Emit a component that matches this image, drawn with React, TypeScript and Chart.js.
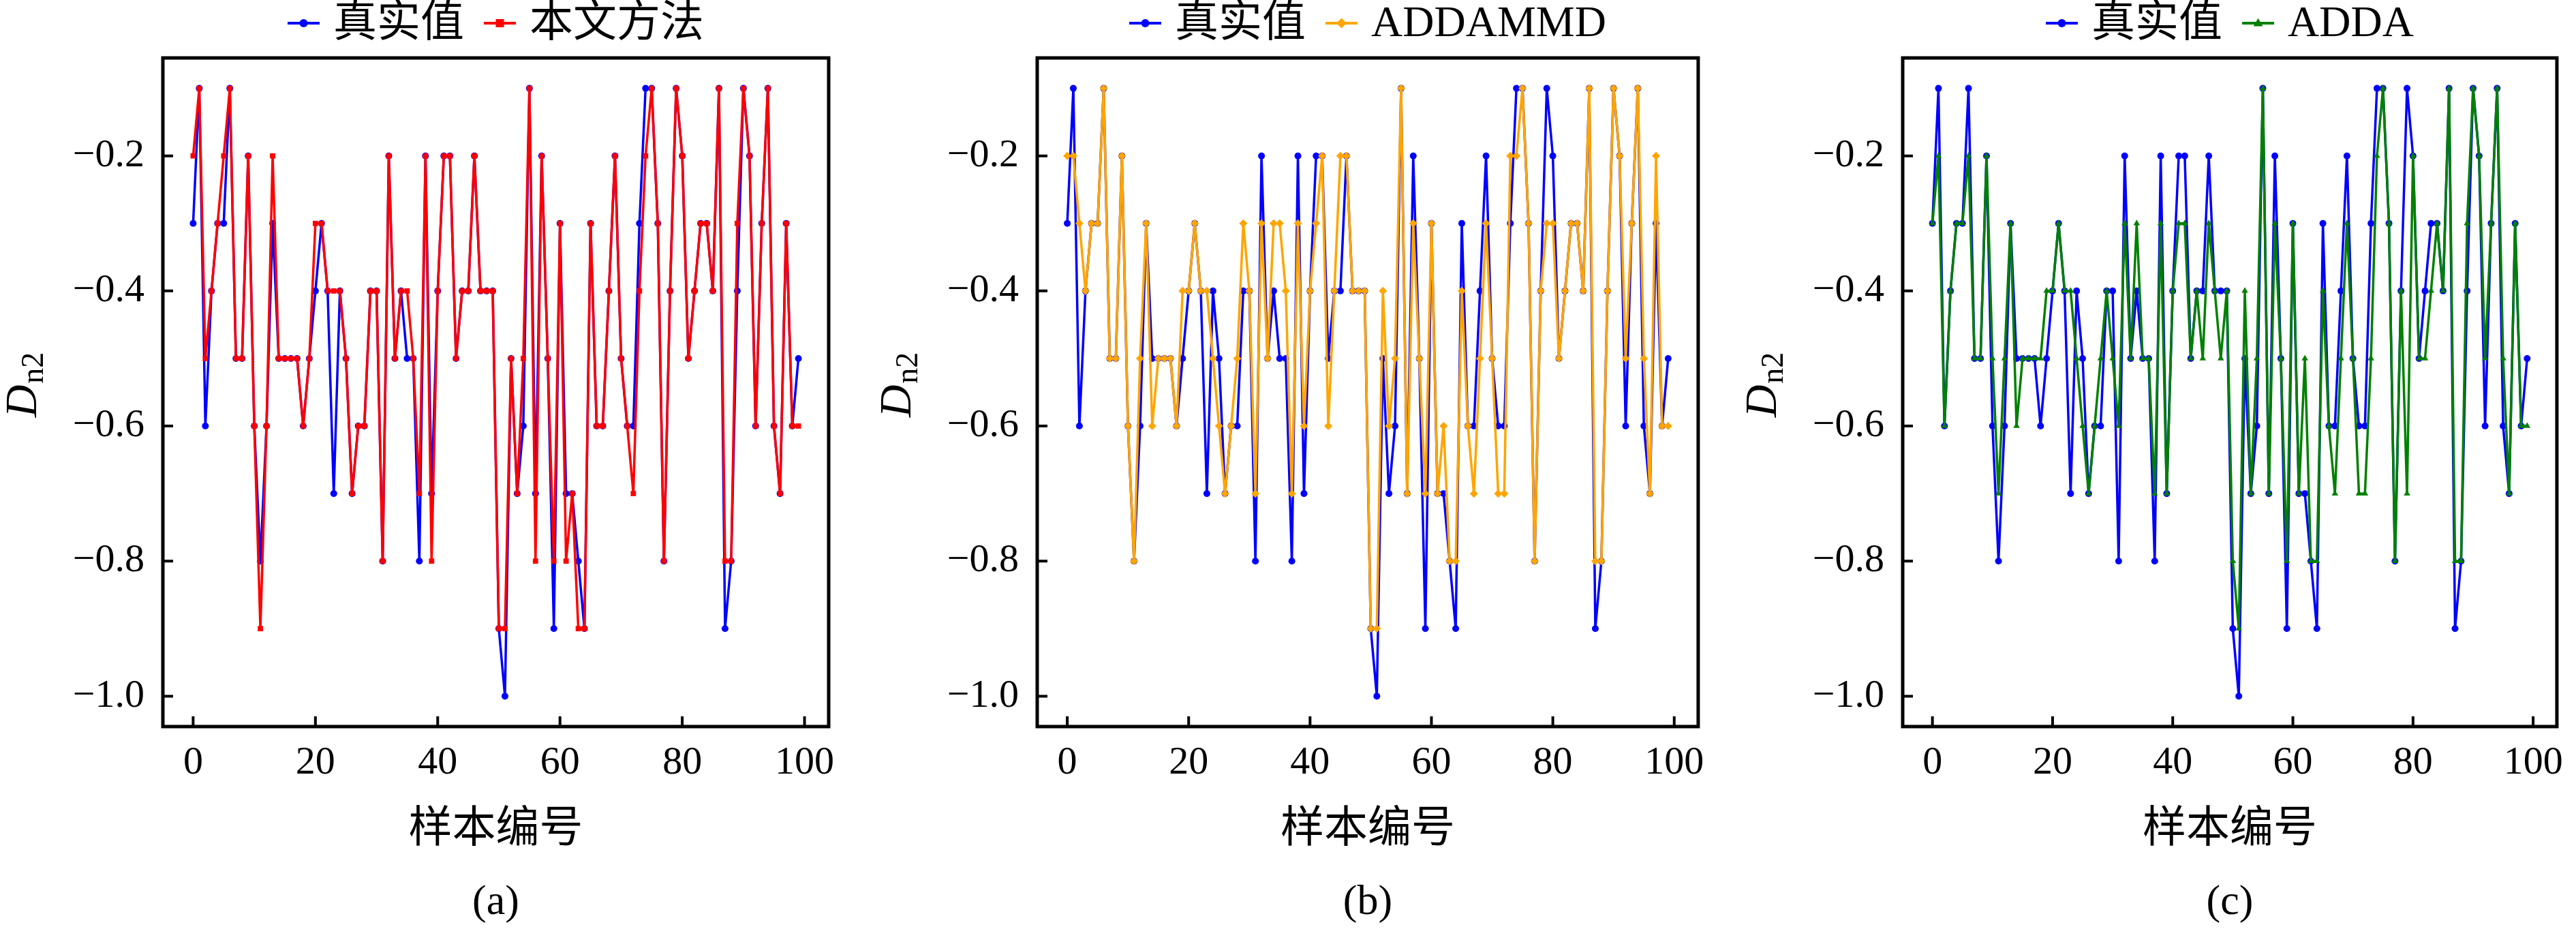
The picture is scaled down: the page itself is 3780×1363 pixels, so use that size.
import React, { useEffect, useRef } from 'react';
import { Chart, registerables } from 'chart.js';

Chart.register(...registerables);

// ---------------- data ----------------
const SAMPLE_IDS: number[] = Array.from({ length: 100 }, (_, i) => i);

const TRUE_VALUES = [
  -0.3, -0.1, -0.6, -0.4, -0.3, -0.3, -0.1, -0.5, -0.5, -0.2,
  -0.6, -0.8, -0.6, -0.3, -0.5, -0.5, -0.5, -0.5, -0.6, -0.5,
  -0.4, -0.3, -0.4, -0.7, -0.4, -0.5, -0.7, -0.6, -0.6, -0.4,
  -0.4, -0.8, -0.2, -0.5, -0.4, -0.5, -0.5, -0.8, -0.2, -0.7,
  -0.4, -0.2, -0.2, -0.5, -0.4, -0.4, -0.2, -0.4, -0.4, -0.4,
  -0.9, -1.0, -0.5, -0.7, -0.6, -0.1, -0.7, -0.2, -0.5, -0.9,
  -0.3, -0.7, -0.7, -0.8, -0.9, -0.3, -0.6, -0.6, -0.4, -0.2,
  -0.5, -0.6, -0.6, -0.3, -0.1, -0.1, -0.3, -0.8, -0.4, -0.1,
  -0.2, -0.5, -0.4, -0.3, -0.3, -0.4, -0.1, -0.9, -0.8, -0.4,
  -0.1, -0.2, -0.6, -0.3, -0.1, -0.6, -0.7, -0.3, -0.6, -0.5,
];

const OURS_VALUES = [
  -0.2, -0.1, -0.5, -0.4, -0.3, -0.2, -0.1, -0.5, -0.5, -0.2,
  -0.6, -0.9, -0.6, -0.2, -0.5, -0.5, -0.5, -0.5, -0.6, -0.5,
  -0.3, -0.3, -0.4, -0.4, -0.4, -0.5, -0.7, -0.6, -0.6, -0.4,
  -0.4, -0.8, -0.2, -0.5, -0.4, -0.4, -0.5, -0.7, -0.2, -0.8,
  -0.4, -0.2, -0.2, -0.5, -0.4, -0.4, -0.2, -0.4, -0.4, -0.4,
  -0.9, -0.9, -0.5, -0.7, -0.5, -0.1, -0.8, -0.2, -0.5, -0.8,
  -0.3, -0.8, -0.7, -0.9, -0.9, -0.3, -0.6, -0.6, -0.4, -0.2,
  -0.5, -0.6, -0.7, -0.4, -0.2, -0.1, -0.3, -0.8, -0.4, -0.1,
  -0.2, -0.5, -0.4, -0.3, -0.3, -0.4, -0.1, -0.8, -0.8, -0.3,
  -0.1, -0.2, -0.6, -0.3, -0.1, -0.6, -0.7, -0.3, -0.6, -0.6,
];

const ADDAMMD_VALUES = [
  -0.2, -0.2, -0.3, -0.4, -0.3, -0.3, -0.1, -0.5, -0.5, -0.2,
  -0.6, -0.8, -0.5, -0.3, -0.6, -0.5, -0.5, -0.5, -0.6, -0.4,
  -0.4, -0.3, -0.4, -0.4, -0.5, -0.6, -0.7, -0.6, -0.5, -0.3,
  -0.4, -0.7, -0.3, -0.5, -0.3, -0.3, -0.4, -0.7, -0.3, -0.6,
  -0.4, -0.3, -0.2, -0.6, -0.4, -0.2, -0.2, -0.4, -0.4, -0.4,
  -0.9, -0.9, -0.4, -0.6, -0.5, -0.1, -0.7, -0.3, -0.5, -0.7,
  -0.3, -0.7, -0.6, -0.8, -0.8, -0.4, -0.6, -0.7, -0.5, -0.3,
  -0.5, -0.7, -0.7, -0.2, -0.2, -0.1, -0.3, -0.8, -0.4, -0.3,
  -0.3, -0.5, -0.4, -0.3, -0.3, -0.4, -0.1, -0.8, -0.8, -0.4,
  -0.1, -0.2, -0.5, -0.3, -0.1, -0.5, -0.7, -0.2, -0.6, -0.6,
];

const ADDA_VALUES = [
  -0.3, -0.2, -0.6, -0.4, -0.3, -0.3, -0.2, -0.5, -0.5, -0.2,
  -0.5, -0.7, -0.5, -0.3, -0.6, -0.5, -0.5, -0.5, -0.5, -0.4,
  -0.4, -0.3, -0.4, -0.4, -0.5, -0.6, -0.7, -0.6, -0.5, -0.4,
  -0.5, -0.6, -0.3, -0.5, -0.3, -0.5, -0.5, -0.7, -0.3, -0.7,
  -0.4, -0.3, -0.3, -0.5, -0.4, -0.5, -0.3, -0.4, -0.5, -0.4,
  -0.8, -0.9, -0.4, -0.7, -0.5, -0.1, -0.7, -0.3, -0.5, -0.8,
  -0.3, -0.7, -0.5, -0.8, -0.8, -0.4, -0.6, -0.7, -0.5, -0.3,
  -0.5, -0.7, -0.7, -0.5, -0.2, -0.1, -0.3, -0.8, -0.4, -0.7,
  -0.2, -0.5, -0.5, -0.4, -0.3, -0.4, -0.1, -0.8, -0.8, -0.3,
  -0.1, -0.2, -0.5, -0.3, -0.1, -0.5, -0.7, -0.3, -0.6, -0.6,
];

const X_TICKS = [0, 20, 40, 60, 80, 100];
const Y_TICKS = [-1.0, -0.8, -0.6, -0.4, -0.2];
const X_MIN = -4.95;
const X_MAX = 103.95;
const Y_MIN = -1.045;
const Y_MAX = -0.055;

const TRUE_LABEL = '真实值';
const X_TITLE = '样本编号';
const Y_TITLE_MAIN = 'D';
const Y_TITLE_SUB = 'n2';

const METHOD_NAMES = ['本文方法', 'ADDAMMD', 'ADDA'];
const PANEL_TAGS = ['(a)', '(b)', '(c)'];
const METHOD_SERIES = [OURS_VALUES, ADDAMMD_VALUES, ADDA_VALUES];

// ---------------- styles / layout ----------------
const W_TOTAL = 3780;
const H_TOTAL = 1363;
const PLOT_TOP = 85;
const PLOT_BOTTOM = 1066;

const TRUE_STYLE = { color: '#0000ff', marker: 'circle', radius: 5 };
const METHOD_STYLES = [
  { color: '#ff0000', marker: 'rect', radius: 5.5 },
  { color: '#ffa500', marker: 'rectRot', radius: 6 },
  { color: '#008000', marker: 'triangle', radius: 5.5 },
];

const FRAMES = [
  { left: 0, width: 1260, axisW: 239, padRight: 44 },
  { left: 1260, width: 1260, axisW: 262, padRight: 21 },
  { left: 2520, width: 1260, axisW: 272, padRight: 10 },
];

const SERIF = '"Liberation Serif", "Times New Roman", "Noto Sans CJK SC", serif';
const MIXED = '"Liberation Serif", "Noto Sans CJK SC", serif';
const CJK = '"Noto Sans CJK SC", "Liberation Serif", sans-serif';

function drawMarker(ctx: CanvasRenderingContext2D, style: string, x: number, y: number, r: number, color: string) {
  ctx.save();
  ctx.fillStyle = color;
  ctx.beginPath();
  if (style === 'circle') {
    ctx.arc(x, y, r, 0, Math.PI * 2);
  } else if (style === 'rect') {
    ctx.rect(x - r, y - r, 2 * r, 2 * r);
  } else if (style === 'rectRot') {
    ctx.moveTo(x, y - r * 1.25);
    ctx.lineTo(x + r * 1.25, y);
    ctx.lineTo(x, y + r * 1.25);
    ctx.lineTo(x - r * 1.25, y);
    ctx.closePath();
  } else {
    ctx.moveTo(x, y - r * 1.2);
    ctx.lineTo(x + r * 1.15, y + r * 0.75);
    ctx.lineTo(x - r * 1.15, y + r * 0.75);
    ctx.closePath();
  }
  ctx.fill();
  ctx.restore();
}

function makeDecor(index: number) {
  return {
    id: 'panelDecor' + index,
    afterDraw(chart: any) {
      const ctx: CanvasRenderingContext2D = chart.ctx;
      const { left, right, top, bottom } = chart.chartArea;
      const xs = chart.scales.x;
      const ys = chart.scales.y;
      ctx.save();
      // inward tick marks
      ctx.strokeStyle = '#000';
      ctx.lineWidth = 4;
      ctx.beginPath();
      for (const t of Y_TICKS) {
        const py = ys.getPixelForValue(t);
        ctx.moveTo(left, py);
        ctx.lineTo(left + 15, py);
      }
      for (const t of X_TICKS) {
        const px = xs.getPixelForValue(t);
        ctx.moveTo(px, bottom);
        ctx.lineTo(px, bottom - 15);
      }
      ctx.stroke();
      // spines
      ctx.lineWidth = 5;
      ctx.strokeRect(left, top, right - left, bottom - top);

      const cx = (left + right) / 2;
      ctx.fillStyle = '#000';

      // y title: D_{n2}
      ctx.save();
      const baseX = left - 186;
      const midY = (top + bottom) / 2 - 11;
      ctx.translate(baseX, midY);
      ctx.rotate(-Math.PI / 2);
      ctx.font = 'italic 66px "Liberation Serif", serif';
      const wMain = ctx.measureText(Y_TITLE_MAIN).width;
      ctx.font = '46px "Liberation Serif", serif';
      const wSub = ctx.measureText(Y_TITLE_SUB).width;
      const start = -(wMain + wSub + 2) / 2;
      ctx.textBaseline = 'alphabetic';
      ctx.textAlign = 'left';
      ctx.font = 'italic 66px "Liberation Serif", serif';
      ctx.fillText(Y_TITLE_MAIN, start, 0);
      ctx.font = '46px "Liberation Serif", serif';
      ctx.fillText(Y_TITLE_SUB, start + wMain + 2, 10);
      ctx.restore();

      // x title
      ctx.textAlign = 'center';
      ctx.textBaseline = 'middle';
      ctx.font = '64px ' + CJK;
      ctx.fillText(X_TITLE, cx, bottom + 145);

      // panel tag
      ctx.font = '62px ' + SERIF;
      ctx.fillText(PANEL_TAGS[index], cx, bottom + 259);

      // legend (drawn from the chart's datasets)
      const dsets = chart.data.datasets;
      const order = [0, 1];
      const handleLen = 47;
      const handleGap = 20;
      const entryGap = 29;
      ctx.font = '64px ' + MIXED;
      const widths = order.map((k) => ctx.measureText(dsets[k].label).width);
      let total = 0;
      order.forEach((k, j) => {
        total += handleLen + handleGap + widths[j];
        if (j < order.length - 1) total += entryGap;
      });
      let x = cx - total / 2;
      const ly = top - 51;
      order.forEach((k, j) => {
        const ds = dsets[k];
        ctx.strokeStyle = ds.borderColor;
        ctx.lineWidth = 4;
        ctx.beginPath();
        ctx.moveTo(x, ly);
        ctx.lineTo(x + handleLen, ly);
        ctx.stroke();
        drawMarker(ctx, ds.pointStyle, x + handleLen / 2, ly, 6, ds.borderColor);
        x += handleLen + handleGap;
        ctx.fillStyle = '#000';
        ctx.textAlign = 'left';
        ctx.textBaseline = 'middle';
        ctx.font = '64px ' + MIXED;
        ctx.fillText(ds.label, x, ly + 2);
        x += widths[j] + entryGap;
      });
      ctx.restore();
    },
  };
}

function fmtY(v: number) {
  const s = Math.abs(v).toFixed(1);
  return v < 0 ? '\u2212' + s : s;
}

function Panel({ index }: { index: number }) {
  const ref = useRef<HTMLCanvasElement>(null);
  const frame = FRAMES[index];
  useEffect(() => {
    const style = METHOD_STYLES[index];
    const method = METHOD_SERIES[index];
    const cfg: any = {
      type: 'line',
      data: {
        datasets: [
          {
            label: TRUE_LABEL,
            data: TRUE_VALUES.map((v, i) => ({ x: SAMPLE_IDS[i], y: v })),
            borderColor: TRUE_STYLE.color,
            backgroundColor: TRUE_STYLE.color,
            pointStyle: TRUE_STYLE.marker,
            pointRadius: TRUE_STYLE.radius,
            pointBorderWidth: 0,
            borderWidth: 3.5,
            tension: 0,
            order: 2,
          },
          {
            label: METHOD_NAMES[index],
            data: method.map((v, i) => ({ x: SAMPLE_IDS[i], y: v })),
            borderColor: style.color,
            backgroundColor: style.color,
            pointStyle: style.marker,
            pointRadius: style.radius,
            pointBorderWidth: 0,
            borderWidth: 3.5,
            tension: 0,
            order: 1,
          },
        ],
      },
      options: {
        responsive: false,
        animation: false,
        devicePixelRatio: 1,
        events: [],
        layout: { padding: { top: PLOT_TOP, right: frame.padRight, left: 0, bottom: 0 } },
        plugins: { legend: { display: false }, tooltip: { enabled: false }, title: { display: false } },
        scales: {
          x: {
            type: 'linear',
            min: X_MIN,
            max: X_MAX,
            afterBuildTicks: (s: any) => {
              s.ticks = X_TICKS.map((v) => ({ value: v }));
            },
            afterFit: (s: any) => {
              s.height = H_TOTAL - PLOT_BOTTOM;
            },
            grid: { display: false, drawTicks: false },
            border: { display: false },
            ticks: {
              padding: 19,
              color: '#000',
              maxRotation: 0,
              autoSkip: false,
              font: { family: SERIF, size: 58 },
              callback: (v: number) => String(v),
            },
          },
          y: {
            type: 'linear',
            min: Y_MIN,
            max: Y_MAX,
            afterBuildTicks: (s: any) => {
              s.ticks = Y_TICKS.map((v) => ({ value: v }));
            },
            afterFit: (s: any) => {
              s.width = frame.axisW;
            },
            grid: { display: false, drawTicks: false },
            border: { display: false },
            ticks: {
              padding: 27,
              color: '#000',
              autoSkip: false,
              font: { family: SERIF, size: 58 },
              callback: (v: number) => fmtY(v),
            },
          },
        },
      },
      plugins: [makeDecor(index)],
    };
    const chart = new Chart(ref.current as HTMLCanvasElement, cfg);
    return () => chart.destroy();
  }, [index]);
  return (
    <canvas
      ref={ref}
      width={frame.width}
      height={H_TOTAL}
      style={{ position: 'absolute', left: frame.left, top: 0, width: frame.width, height: H_TOTAL }}
    />
  );
}

export default function App() {
  useEffect(() => {
    document.body.style.margin = '0';
    document.body.style.overflow = 'hidden';
    document.body.style.background = '#ffffff';
  }, []);
  return (
    <div style={{ position: 'relative', width: W_TOTAL, height: H_TOTAL, background: '#ffffff', overflow: 'hidden' }}>
      {[0, 1, 2].map((i) => (
        <Panel key={i} index={i} />
      ))}
    </div>
  );
}
